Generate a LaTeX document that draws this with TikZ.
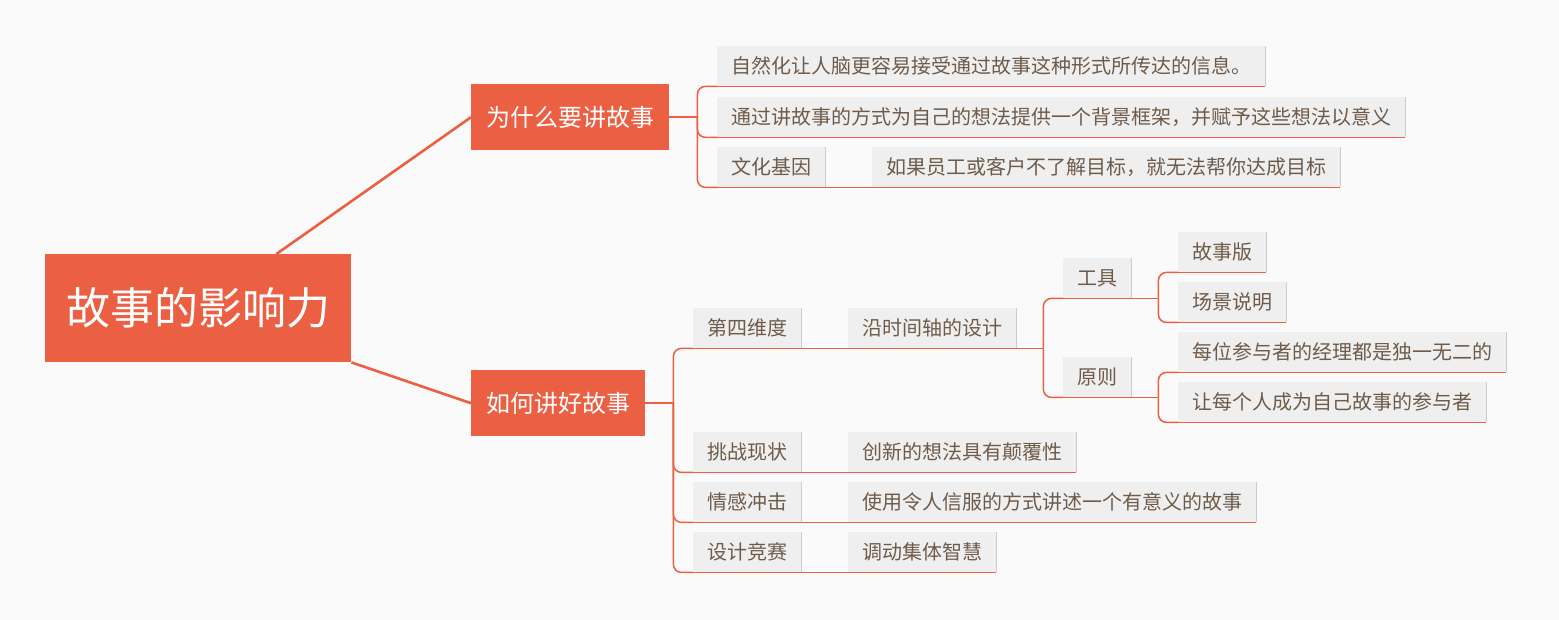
\documentclass[tikz,border=0pt]{standalone}
\usepackage{fontspec}
\setmainfont{Noto Sans CJK SC}
\definecolor{mmorange}{HTML}{EB5F43}
\definecolor{mmbg}{HTML}{FAFAFA}
\definecolor{leaffill}{HTML}{F0EFEF}
\definecolor{leafshadow}{HTML}{CCCCCC}
\definecolor{leaftext}{HTML}{6E5B4A}
\tikzset{
  conn/.style={draw=mmorange, line width=1.5pt, rounded corners=8pt},
  mainconn/.style={draw=mmorange, line width=2.6pt},
  rootbox/.style={fill=mmorange, text=white, font=\fontsize{44}{50}\selectfont,
    inner xsep=21pt, inner ysep=0pt, minimum height=108pt, anchor=north west},
  branchbox/.style={fill=mmorange, text=white, font=\fontsize{24}{28}\selectfont,
    inner xsep=15pt, inner ysep=0pt, minimum height=66pt, anchor=north west},
  leaf/.style={fill=leaffill, text=leaftext, font=\fontsize{20}{24}\selectfont,
    inner xsep=14pt, inner ysep=0pt, minimum height=40pt, anchor=north west,
    append after command={\pgfextra{\let\leafnode\tikzlastnode}
      (\leafnode.south east) edge[draw=leafshadow, line width=1.5pt] (\leafnode.north east)
      (\leafnode.south west) edge[draw=mmorange, line width=1.5pt] (\leafnode.south east)}},
}
\begin{document}
\begin{tikzpicture}[x=1pt,y=-1pt]
\useasboundingbox[fill=mmbg] (0,0) rectangle (1559,620);

% root and main branches
\node[rootbox] (root) at (45,254) {故事的影响力};
\node[branchbox] (why) at (471,84) {为什么要讲故事};
\node[branchbox] (how) at (471,370) {如何讲好故事};

% branch 1 leaves
\node[leaf] (w1) at (717,46) {自然化让人脑更容易接受通过故事这种形式所传达的信息。};
\node[leaf] (w2) at (717,97) {通过讲故事的方式为自己的想法提供一个背景框架，并赋予这些想法以意义};
\node[leaf] (w3) at (717,147) {文化基因};
\node[leaf] (w3a) at (872,147) {如果员工或客户不了解目标，就无法帮你达成目标};

% branch 2 leaves
\node[leaf] (h1) at (693,308) {第四维度};
\node[leaf] (h1a) at (848,308) {沿时间轴的设计};
\node[leaf] (tool) at (1063,258) {工具};
\node[leaf] (rule) at (1063,357) {原则};
\node[leaf] (t1) at (1178,232) {故事版};
\node[leaf] (t2) at (1178,282) {场景说明};
\node[leaf] (r1) at (1178,332) {每位参与者的经理都是独一无二的};
\node[leaf] (r2) at (1178,382) {让每个人成为自己故事的参与者};
\node[leaf] (h2) at (693,432) {挑战现状};
\node[leaf] (h2a) at (848,432) {创新的想法具有颠覆性};
\node[leaf] (h3) at (693,482) {情感冲击};
\node[leaf] (h3a) at (848,482) {使用令人信服的方式讲述一个有意义的故事};
\node[leaf] (h4) at (693,532) {设计竞赛};
\node[leaf] (h4a) at (848,532) {调动集体智慧};

% main connectors
\draw[mainconn] ([xshift=-75pt]root.north east) -- (why.west);
\draw[mainconn] (root.south east) -- (how.west);

% branch 1 bracket
\draw[conn] (why.east) -- ++(28,0) coordinate (bw);
\foreach \c in {w1,w2,w3} \draw[conn] (bw) |- (\c.south west);
\draw[conn] (w3.south east) -- (w3a.south west);

% branch 2 bracket
\draw[conn] (how.east) -- ++(28,0) coordinate (bh);
\foreach \c in {h1,h2,h3,h4} \draw[conn] (bh) |- (\c.south west);
\draw[conn] (h1.south east) -- (h1a.south west);
\draw[conn] (h2.south east) -- (h2a.south west);
\draw[conn] (h3.south east) -- (h3a.south west);
\draw[conn] (h4.south east) -- (h4a.south west);

% sub brackets
\draw[conn] (h1a.south east) -- ++(27,0) coordinate (bt);
\foreach \c in {tool,rule} \draw[conn] (bt) |- (\c.south west);
\draw[conn] (tool.south east) -- ++(27,0) coordinate (btt);
\foreach \c in {t1,t2} \draw[conn] (btt) |- (\c.south west);
\draw[conn] (rule.south east) -- ++(27,0) coordinate (brr);
\foreach \c in {r1,r2} \draw[conn] (brr) |- (\c.south west);
\end{tikzpicture}
\end{document}
